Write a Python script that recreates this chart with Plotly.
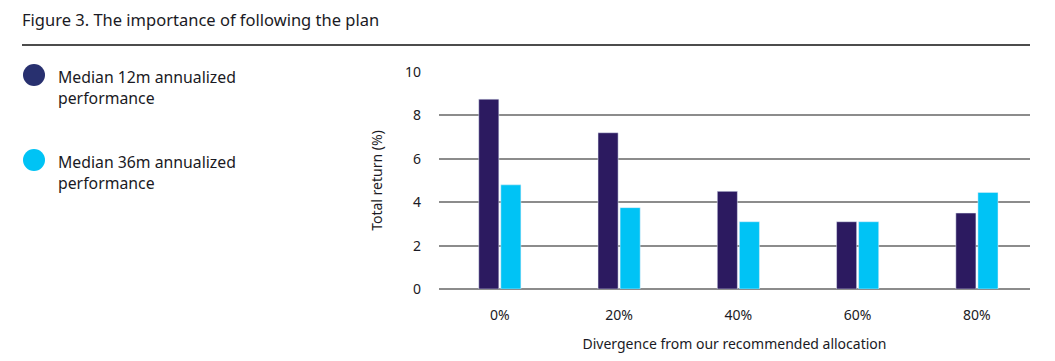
import plotly.graph_objects as go

categories = ["0%", "20%", "40%", "60%", "80%"]
median_12m = [8.75, 7.2, 4.5, 3.1, 3.5]
median_36m = [4.8, 3.75, 3.1, 3.1, 4.45]
series_names = ["Median 12m annualized<br>performance", "Median 36m annualized<br>performance"]
y_ticks = [0, 2, 4, 6, 8, 10]

DARK = "#2C1A60"
LIGHT = "#00C3F5"
FONT = "Noto Sans"
OFF = 8  # page body margin

W, H = 1055 - OFF, 361 - OFF
L, R, T, B = 439 - OFF, 25, 72 - OFF, 72

fig = go.Figure()
fig.add_trace(go.Bar(x=categories, y=median_12m, marker_color=DARK, name="12m", showlegend=False))
fig.add_trace(go.Bar(x=categories, y=median_36m, marker_color=LIGHT, name="36m", showlegend=False))


def px(x):
    return (x - OFF - L) / (W - L - R)


def py(y):
    return (H - B - (y - OFF)) / (H - T - B)


fig.update_layout(
    width=W, height=H,
    margin=dict(l=L, r=R, t=T, b=B),
    barmode="group", bargap=0.63, bargroupgap=0.09,
    plot_bgcolor="white", paper_bgcolor="white",
    font=dict(family=FONT, size=14, color="#1a1a24"),
    xaxis=dict(showgrid=False, showline=False, ticks="", tickfont=dict(size=14),
               range=[-0.51, 4.445], ticklabelstandoff=16,
               title=dict(text="Divergence from our recommended allocation", font=dict(size=14), standoff=16)),
    yaxis=dict(range=[0, 10], tickvals=y_ticks, showgrid=True, gridcolor="#8c8c8c", gridwidth=1.5,
               zeroline=True, zerolinecolor="#8c8c8c", zerolinewidth=1.5, showline=False,
               ticks="", ticklabelstandoff=17, tickfont=dict(size=14),
               title=dict(text="Total return (%)", font=dict(size=14), standoff=19)),
)

# Title and rule
fig.add_annotation(text="Figure 3. The importance of following the plan", xref="paper", yref="paper",
                   x=px(20), y=py(20), xanchor="left", yanchor="middle", showarrow=False,
                   font=dict(size=16.5, color="#1a1a24"))
fig.add_shape(type="line", xref="paper", yref="paper", x0=px(22), x1=px(1030), y0=py(45), y1=py(45),
              line=dict(color="#111111", width=1.5))

# Custom legend
for i, (name, col) in enumerate(zip(series_names, ["#28306F", LIGHT])):
    cy = 75 + i * 85
    r = 11
    fig.add_shape(type="circle", xref="paper", yref="paper", x0=px(34 - r), x1=px(34 + r),
                  y0=py(cy + r), y1=py(cy - r), fillcolor=col, line=dict(width=0))
    fig.add_annotation(text=name, xref="paper", yref="paper", x=px(56), y=py(cy - 11),
                       xanchor="left", yanchor="top", align="left", showarrow=False,
                       font=dict(size=15.8, color="#1a1a24"))

fig.write_html("out.html")
